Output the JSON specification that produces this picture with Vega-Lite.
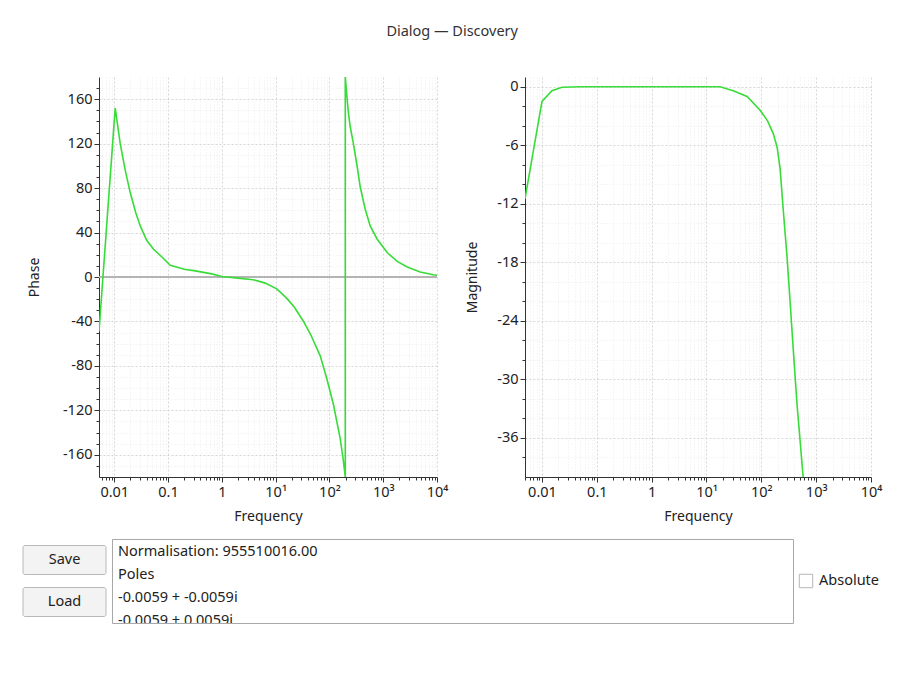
{
  "$schema": "https://vega.github.io/schema/vega-lite/v6.json",
  "background": "white",
  "padding": {"left": 22, "top": 23, "right": 5, "bottom": 5},
  "title": {"text": "Dialog — Discovery", "anchor": "middle", "fontSize": 14.5, "font": "Noto Sans", "fontWeight": "normal", "color": "#333", "offset": 38},
  "config": {
    "view": {"stroke": null},
    "font": "Noto Sans",
    "axis": {"domainColor": "#333", "tickColor": "#333", "labelColor": "#222", "titleColor": "#222", "labelFontSize": 14.5, "titleFontSize": 14, "titleFontWeight": "normal", "labelFont": "Noto Sans", "titleFont": "Noto Sans"}
  },
  "datasets": {
    "phase": [
      {"i": 1, "f": 0.0052, "p": -49}, {"i": 2, "f": 0.0104, "p": 152}, {"i": 3, "f": 0.0129, "p": 120},
      {"i": 4, "f": 0.016, "p": 96}, {"i": 5, "f": 0.0198, "p": 76}, {"i": 6, "f": 0.025, "p": 58},
      {"i": 7, "f": 0.0304, "p": 46}, {"i": 8, "f": 0.04, "p": 33}, {"i": 9, "f": 0.0537, "p": 25},
      {"i": 10, "f": 0.077, "p": 18}, {"i": 11, "f": 0.11, "p": 10.5}, {"i": 12, "f": 0.2, "p": 7},
      {"i": 13, "f": 0.32, "p": 5.5}, {"i": 14, "f": 0.65, "p": 2.8}, {"i": 15, "f": 1.0, "p": 0.5},
      {"i": 16, "f": 2.0, "p": -1}, {"i": 17, "f": 3.8, "p": -2.4}, {"i": 18, "f": 6.4, "p": -5.5},
      {"i": 19, "f": 10.5, "p": -10.7}, {"i": 20, "f": 16, "p": -19}, {"i": 21, "f": 22.2, "p": -27},
      {"i": 22, "f": 33, "p": -40}, {"i": 23, "f": 45, "p": -52}, {"i": 24, "f": 67.4, "p": -71},
      {"i": 25, "f": 90, "p": -92}, {"i": 26, "f": 119, "p": -115}, {"i": 27, "f": 158, "p": -145},
      {"i": 28, "f": 180, "p": -164}, {"i": 29, "f": 197, "p": -180}, {"i": 30, "f": 197, "p": 180},
      {"i": 31, "f": 223, "p": 150}, {"i": 32, "f": 244, "p": 135}, {"i": 33, "f": 277, "p": 121},
      {"i": 34, "f": 329, "p": 99}, {"i": 35, "f": 374, "p": 81}, {"i": 36, "f": 463, "p": 61},
      {"i": 37, "f": 573, "p": 46}, {"i": 38, "f": 773, "p": 34}, {"i": 39, "f": 1186, "p": 22},
      {"i": 40, "f": 1820, "p": 14}, {"i": 41, "f": 2793, "p": 9}, {"i": 42, "f": 4875, "p": 4.5},
      {"i": 43, "f": 8491, "p": 2}, {"i": 44, "f": 10000, "p": 1.5}
    ],
    "mag": [
      {"f": 0.0049, "m": -11.5}, {"f": 0.01, "m": -1.5}, {"f": 0.0152, "m": -0.4}, {"f": 0.0232, "m": -0.05},
      {"f": 0.05, "m": 0}, {"f": 1, "m": 0}, {"f": 17.7, "m": 0}, {"f": 30.6, "m": -0.4},
      {"f": 55, "m": -1.0}, {"f": 95, "m": -2.4}, {"f": 130, "m": -3.5}, {"f": 165, "m": -4.8},
      {"f": 194, "m": -6.2}, {"f": 220, "m": -8.4}, {"f": 250, "m": -12.5}, {"f": 296, "m": -17.6},
      {"f": 340, "m": -22.6}, {"f": 385, "m": -27.2}, {"f": 450, "m": -32.7}, {"f": 579, "m": -40}
    ],
    "buttons": [{"b": "Save"}, {"b": "Load"}],
    "lines": [
      {"n": 1, "c": "a", "t": "Normalisation: 955510016.00"},
      {"n": 2, "c": "a", "t": "Poles"},
      {"n": 3, "c": "a", "t": "-0.0059 + -0.0059i"},
      {"n": 4, "c": "a", "t": "-0.0059 + 0.0059i"}
    ],
    "check": [{"part": "box", "t": ""}, {"part": "label", "t": "Absolute"}]
  },
  "bounds": "full",
  "spacing": 14,
  "vconcat": [
    {
      "bounds": "flush",
      "spacing": 75,
      "hconcat": [
        {
          "width": 1,
          "height": 400,
          "data": {"values": [{"t": ""}]},
          "mark": {"type": "text"},
          "encoding": {"text": {"field": "t"}}
        },
        {
          "bounds": "flush",
          "spacing": 88,
          "hconcat": [
            {
              "width": 338,
              "height": 400,
              "data": {"name": "phase"},
              "resolve": {"axis": {"x": "independent", "y": "independent"}},
              "layer": [
                {
                  "mark": {"type": "line", "opacity": 0},
                  "encoding": {
                    "x": {"field": "f", "type": "quantitative", "scale": {"type": "log", "domain": [0.0052, 10000], "nice": false},
                      "axis": {"orient": "bottom", "values": [0.006,0.007,0.008,0.009,0.02,0.03,0.04,0.05,0.06,0.07,0.08,0.09,0.2,0.3,0.4,0.5,0.6,0.7,0.8,0.9,2,3,4,5,6,7,8,9,20,30,40,50,60,70,80,90,200,300,400,500,600,700,800,900,2000,3000,4000,5000,6000,7000,8000,9000],
                        "labels": false, "domain": false, "tickSize": 3, "title": null, "grid": true, "gridColor": "#ececec", "gridDash": [1, 2]}},
                    "y": {"field": "p", "type": "quantitative", "scale": {"domain": [-180, 180], "nice": false, "zero": false},
                      "axis": {"orient": "left", "values": [-170,-150,-140,-130,-110,-100,-90,-70,-60,-50,-30,-20,-10,10,20,30,50,60,70,90,100,110,130,140,150,170],
                        "labels": false, "domain": false, "tickSize": 3, "title": null, "grid": true, "gridColor": "#ececec", "gridDash": [1, 2]}}
                  }
                },
                {
                  "mark": {"type": "rule", "color": "#b4b4b4", "strokeWidth": 1.5},
                  "encoding": {"y": {"datum": 0, "type": "quantitative", "axis": null}}
                },
                {
                  "mark": {"type": "line", "color": "#38dc38", "strokeWidth": 1.6, "clip": true},
                  "encoding": {
                    "x": {"field": "f", "type": "quantitative", "scale": {"type": "log", "domain": [0.0052, 10000], "nice": false},
                      "axis": {"orient": "bottom", "values": [0.01, 0.1, 1, 10, 100, 1000, 10000], "format": "~g",
                        "labelExpr": "datum.value >= 10 ? ('10' + (datum.value == 10 ? '¹' : datum.value == 100 ? '²' : datum.value == 1000 ? '³' : '⁴')) : datum.label",
                        "labelFlush": false, "labelOverlap": false, "tickSize": 5, "labelPadding": 3, "title": "Frequency", "titlePadding": 11,
                        "grid": true, "gridColor": "#d6d6d6", "gridDash": [2, 2]}},
                    "y": {"field": "p", "type": "quantitative", "scale": {"domain": [-180, 180], "nice": false, "zero": false},
                      "axis": {"orient": "left", "values": [-160, -120, -80, -40, 0, 40, 80, 120, 160], "labelExpr": "replace(datum.label, '−', '-')",
                        "tickSize": 5, "labelPadding": 2, "title": "Phase", "titlePadding": 21, "grid": true, "gridColor": "#d6d6d6", "gridDash": [2, 2]}},
                    "order": {"field": "i", "type": "quantitative"}
                  }
                }
              ]
            },
            {
              "width": 346,
              "height": 400,
              "data": {"name": "mag"},
              "resolve": {"axis": {"x": "independent", "y": "independent"}},
              "layer": [
                {
                  "mark": {"type": "line", "opacity": 0},
                  "encoding": {
                    "x": {"field": "f", "type": "quantitative", "scale": {"type": "log", "domain": [0.0049, 10000], "nice": false},
                      "axis": {"orient": "bottom", "values": [0.005,0.006,0.007,0.008,0.009,0.02,0.03,0.04,0.05,0.06,0.07,0.08,0.09,0.2,0.3,0.4,0.5,0.6,0.7,0.8,0.9,2,3,4,5,6,7,8,9,20,30,40,50,60,70,80,90,200,300,400,500,600,700,800,900,2000,3000,4000,5000,6000,7000,8000,9000],
                        "labels": false, "domain": false, "tickSize": 3, "title": null, "grid": true, "gridColor": "#ececec", "gridDash": [1, 2]}},
                    "y": {"field": "m", "type": "quantitative", "scale": {"domain": [-40, 1], "nice": false, "zero": false},
                      "axis": {"orient": "left", "values": [-38,-34,-32,-28,-26,-22,-20,-16,-14,-10,-8,-4,-2],
                        "labels": false, "domain": false, "tickSize": 3, "title": null, "grid": true, "gridColor": "#ececec", "gridDash": [1, 2]}}
                  }
                },
                {
                  "mark": {"type": "line", "color": "#38dc38", "strokeWidth": 1.6, "clip": true},
                  "encoding": {
                    "x": {"field": "f", "type": "quantitative", "scale": {"type": "log", "domain": [0.0049, 10000], "nice": false},
                      "axis": {"orient": "bottom", "values": [0.01, 0.1, 1, 10, 100, 1000, 10000], "format": "~g",
                        "labelExpr": "datum.value >= 10 ? ('10' + (datum.value == 10 ? '¹' : datum.value == 100 ? '²' : datum.value == 1000 ? '³' : '⁴')) : datum.label",
                        "labelFlush": false, "labelOverlap": false, "tickSize": 5, "labelPadding": 3, "title": "Frequency", "titlePadding": 11,
                        "grid": true, "gridColor": "#d6d6d6", "gridDash": [2, 2]}},
                    "y": {"field": "m", "type": "quantitative", "scale": {"domain": [-40, 1], "nice": false, "zero": false},
                      "axis": {"orient": "left", "values": [0, -6, -12, -18, -24, -30, -36], "labelExpr": "replace(datum.label, '−', '-')",
                        "tickSize": 5, "labelPadding": 2, "title": "Magnitude", "titlePadding": 17, "grid": true, "gridColor": "#d6d6d6", "gridDash": [2, 2]}}
                  }
                }
              ]
            }
          ]
        }
      ]
    },
    {
      "bounds": "flush",
      "spacing": 6,
      "hconcat": [
        {
          "width": 83,
          "height": 84,
          "data": {"name": "buttons"},
          "layer": [
            {
              "mark": {"type": "rect", "fill": "#f3f3f3", "stroke": "#b8b8b8", "cornerRadius": 2},
              "encoding": {"y": {"field": "b", "type": "nominal", "sort": null, "axis": null, "scale": {"paddingInner": 0.31, "paddingOuter": 0.155}}}
            },
            {
              "mark": {"type": "text", "fontSize": 14.5, "color": "#222", "font": "Noto Sans"},
              "encoding": {"y": {"field": "b", "type": "nominal", "sort": null, "axis": null}, "text": {"field": "b"}}
            }
          ]
        },
        {
          "width": 681,
          "height": 84,
          "view": {"fill": "white", "stroke": "#a8a8a8"},
          "data": {"name": "lines"},
          "mark": {"type": "text", "align": "left", "fontSize": 14.5, "color": "#222", "font": "Noto Sans", "clip": true},
          "encoding": {
            "y": {"field": "n", "type": "ordinal", "axis": null, "scale": {"type": "band", "range": [1.5, 93.5], "paddingInner": 0, "paddingOuter": 0}},
            "x": {"field": "c", "type": "nominal", "axis": null, "bandPosition": 0, "scale": {"type": "band", "paddingOuter": 0.009, "paddingInner": 0}},
            "text": {"field": "t"}
          }
        },
        {
          "width": 40,
          "height": 84,
          "data": {"name": "check"},
          "layer": [
            {
              "transform": [{"filter": "datum.part == 'box'"}],
              "mark": {"type": "square", "size": 180, "filled": true, "fill": "white", "stroke": "#999", "strokeWidth": 1},
              "encoding": {"x": {"field": "part", "type": "nominal", "axis": null, "bandPosition": 0.35, "scale": {"type": "band", "domain": ["box", "label"], "paddingInner": 0, "paddingOuter": 0}}}
            },
            {
              "transform": [{"filter": "datum.part == 'label'"}],
              "mark": {"type": "text", "align": "left", "fontSize": 14.5, "color": "#222", "font": "Noto Sans"},
              "encoding": {"x": {"field": "part", "type": "nominal", "axis": null, "bandPosition": 0, "scale": {"type": "band", "domain": ["box", "label"], "paddingInner": 0, "paddingOuter": 0}}, "text": {"field": "t"}}
            }
          ]
        }
      ]
    }
  ]
}
